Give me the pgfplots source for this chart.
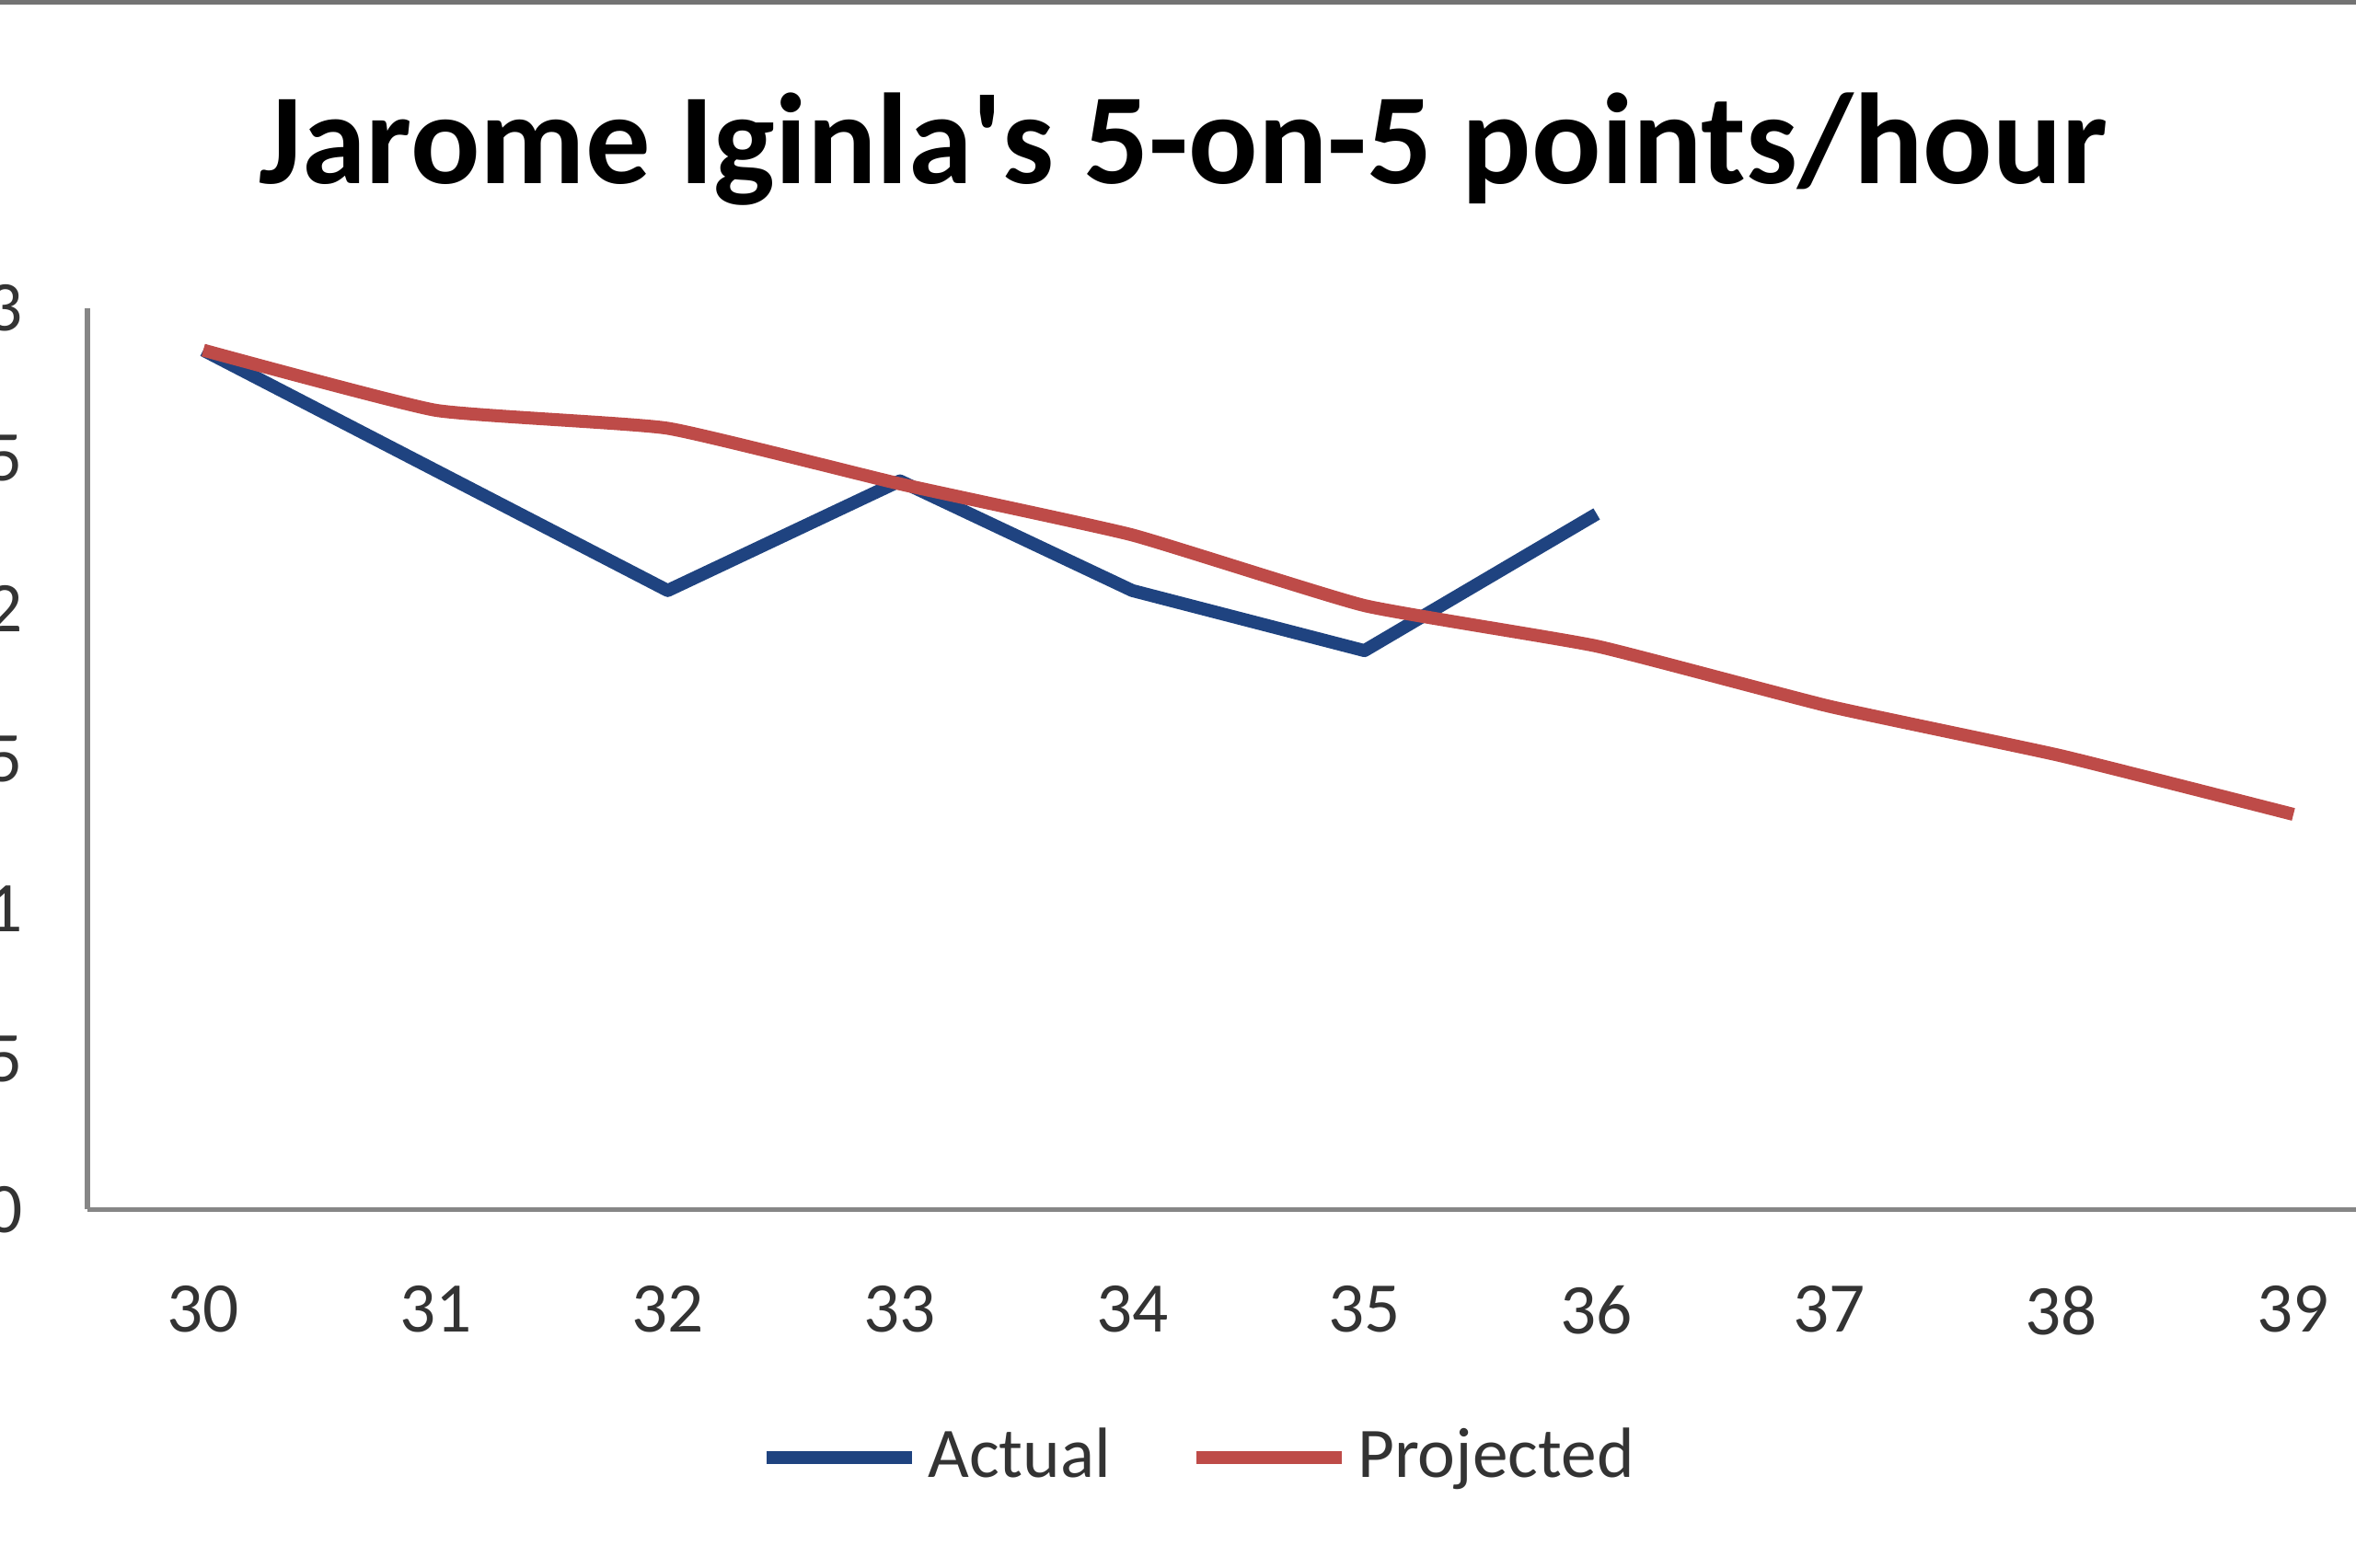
\documentclass[border=0pt]{standalone}
\usepackage{fontspec}
\setmainfont{Carlito}
\usepackage{pgfplots}
\pgfplotsset{compat=1.18}
\definecolor{actualblue}{HTML}{1F4380}
\definecolor{projred}{HTML}{BE4B48}
\definecolor{axisgray}{HTML}{868686}
\definecolor{labelgray}{HTML}{333333}
\begin{document}
\begin{tikzpicture}[x=1cm,y=1cm]
\path[use as bounding box] (0,0) rectangle (12.8,8.515);
\clip (0,0) rectangle (12.8,8.515);
\fill[black!55] (0,8.49) rectangle (12.8,8.515);
\node[anchor=base, font=\bfseries\fontsize{20}{24}\selectfont] at (6.43,7.518) {Jarome Iginla\textquotesingle s 5-on-5 points/hour};
\begin{axis}[
  at={(0.4735cm,1.943cm)}, anchor=south west,
  scale only axis, width=12.617cm, height=4.898cm,
  xmin=29.5, xmax=39.5, ymin=0, ymax=3,
  xtick={30,31,...,39}, ytick={0,0.5,...,3},
  axis x line*=bottom, axis y line*=left,
  axis line style={axisgray, line width=0.8pt},
  tick style={draw=none}, major tick length=0pt,
  /pgf/number format/assume math mode=true,
  ticklabel style={font=\fontsize{11}{13}\selectfont, text=labelgray},
  xticklabel style={anchor=north, inner sep=0pt, yshift=-0.408cm},
  yticklabel style={anchor=east, inner sep=0pt, xshift=-0.345cm},
  legend columns=2,
  legend style={at={(0.48,-0.275)}, anchor=center, draw=none, fill=none,
    font=\fontsize{11}{13}\selectfont, text=labelgray,
    nodes={inner sep=0.05cm},
    /tikz/every even column/.append style={column sep=0.38cm}},
  legend image code/.code={\draw[#1] (0cm,0cm) -- (0.79cm,0cm);},
]
\addplot[actualblue, line width=2pt, line join=round] coordinates {
  (30,2.86) (31,2.46) (32,2.06) (33,2.425) (34,2.06) (35,1.86) (36,2.315)};
\addlegendentry{Actual}
\addplot[projred, line width=2pt, line join=round, smooth, tension=0.25] coordinates {
  (30,2.86) (31,2.66) (32,2.60) (33,2.415) (34,2.245) (35,2.01) (36,1.875) (37,1.675) (38,1.51) (39,1.315)};
\addlegendentry{Projected}
\end{axis}
\end{tikzpicture}
\end{document}
